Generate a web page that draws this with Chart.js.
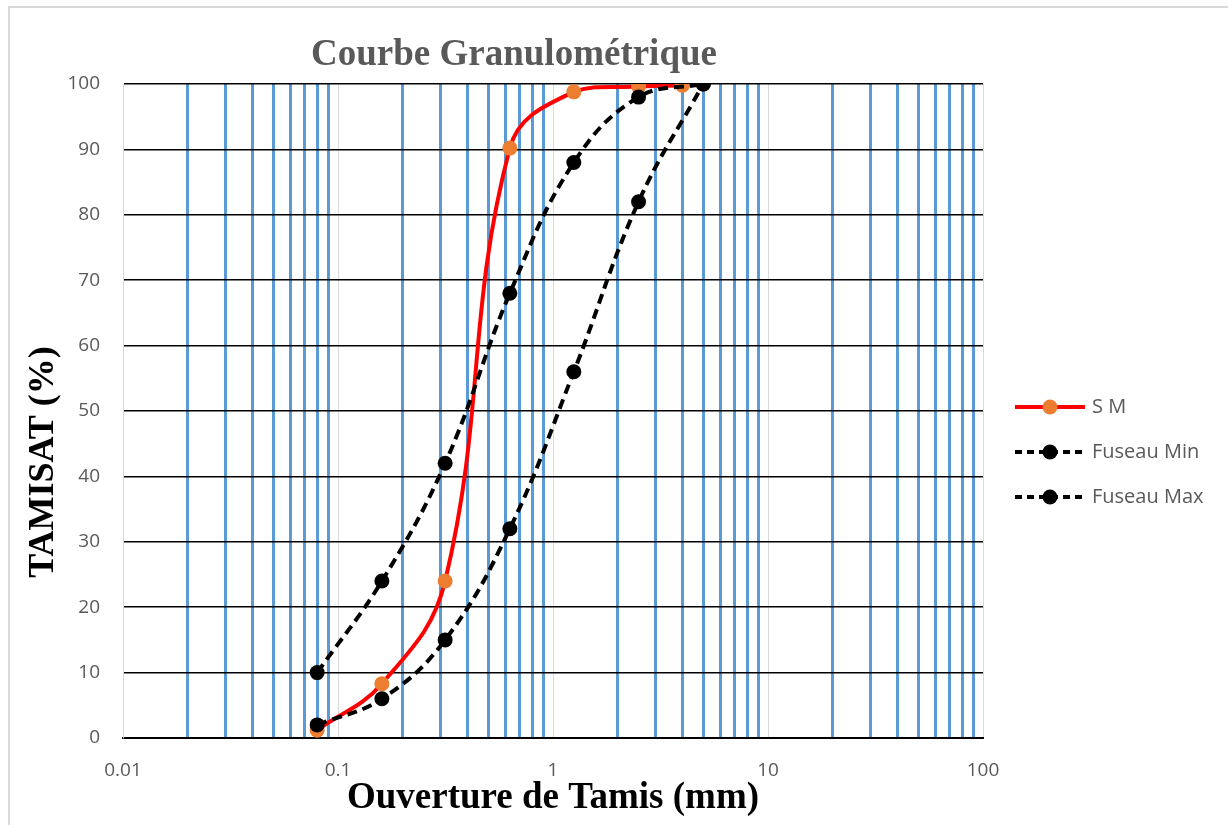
<!DOCTYPE html>
<html><head><meta charset="utf-8">
<script src="https://cdn.jsdelivr.net/npm/chart.js@4.4.1/dist/chart.umd.min.js"></script>
<style>html,body{margin:0;padding:0;background:#fff}#wrap{width:1228px;height:825px;position:relative}</style>
</head><body><div id="wrap"><canvas id="c" width="1228" height="825"></canvas></div>
<script>
const titleText = 'Courbe Granulométrique';
const xTitle = 'Ouverture de Tamis (mm)';
const yTitle = 'TAMISAT (%)';
const seriesNames = ['S M', 'Fuseau Min', 'Fuseau Max'];
const smSieves = [0.08, 0.16, 0.315, 0.63, 1.25, 2.5, 4, 5];
const smPassing = [1.2, 8.3, 24, 90.2, 98.8, 99.6, 99.8, 100];
const fuseauSieves = [0.08, 0.16, 0.315, 0.63, 1.25, 2.5, 5];
const fuseauMin = [10, 24, 42, 68, 88, 98, 100];
const fuseauMax = [2, 6, 15, 32, 56, 82, 100];
const xTickLabels = ['0.01', '0.1', '1', '10', '100'];
const xDecades = [0.01, 0.1, 1, 10, 100];

const pts = (xs, ys) => xs.map((x, i) => ({x: x, y: ys[i]}));
const tickFont = {family: "'Open Sans', sans-serif", size: 19};

const extras = {
  id: 'extras',
  afterDraw(chart) {
    const ctx = chart.ctx;
    ctx.save();
    ctx.strokeStyle = '#D9D9D9'; ctx.lineWidth = 2; ctx.setLineDash([]);
    ctx.beginPath(); ctx.moveTo(9, 825); ctx.lineTo(9, 7); ctx.lineTo(1228, 7); ctx.stroke();
    ctx.fillStyle = '#595959';
    ctx.font = "bold 37px 'Liberation Serif', serif";
    ctx.textAlign = 'center'; ctx.textBaseline = 'alphabetic';
    ctx.fillText(titleText, 514, 65);
    ctx.save();
    ctx.translate(53, 462); ctx.rotate(-Math.PI / 2);
    ctx.fillStyle = '#000';
    ctx.font = "bold 36px 'Liberation Serif', serif";
    ctx.fillText(yTitle, 0, 0);
    ctx.restore();
    chart.data.datasets.forEach((ds, i) => {
      const y = 407 + i * 45;
      ctx.strokeStyle = ds.borderColor; ctx.lineWidth = ds.borderWidth;
      ctx.setLineDash(ds.borderDash ? [7, 5] : []);
      ctx.beginPath(); ctx.moveTo(1015, y); ctx.lineTo(1085, y); ctx.stroke();
      ctx.setLineDash([]);
      ctx.fillStyle = ds.pointBackgroundColor;
      ctx.beginPath(); ctx.arc(1050, y, ds.pointRadius, 0, Math.PI * 2); ctx.fill();
      ctx.fillStyle = '#595959';
      ctx.font = "20px 'Open Sans', sans-serif";
      ctx.textAlign = 'left'; ctx.textBaseline = 'middle';
      ctx.fillText(ds.label, 1092, y);
    });
    ctx.restore();
  }
};

new Chart(document.getElementById('c'), {
  type: 'line',
  data: {
    datasets: [
      {label: seriesNames[0], data: pts(smSieves, smPassing), borderColor: '#FF0000', borderWidth: 4,
       pointBackgroundColor: '#ED7D31', pointBorderColor: '#ED7D31', pointRadius: 7.5, pointBorderWidth: 0,
       tension: 0.4, order: 3},
      {label: seriesNames[1], data: pts(fuseauSieves, fuseauMin), borderColor: '#000000', borderWidth: 4, borderDash: [10, 6],
       pointBackgroundColor: '#000000', pointBorderColor: '#000000', pointRadius: 7.5, pointBorderWidth: 0,
       tension: 0.4, order: 2},
      {label: seriesNames[2], data: pts(fuseauSieves, fuseauMax), borderColor: '#000000', borderWidth: 4, borderDash: [10, 6],
       pointBackgroundColor: '#000000', pointBorderColor: '#000000', pointRadius: 7.5, pointBorderWidth: 0,
       tension: 0.4, order: 1}
    ]
  },
  options: {
    responsive: false, animation: false, devicePixelRatio: 1,
    layout: {padding: {left: 0, right: 245, top: 84, bottom: 0}},
    plugins: {legend: {display: false}, title: {display: false}, tooltip: {enabled: false}},
    scales: {
      x: {
        type: 'logarithmic', min: 0.01, max: 100,
        afterBuildTicks(scale) {
          const t = [];
          for (let d = 0; d < xDecades.length - 1; d++) {
            for (let k = 1; k <= 9; k++) t.push({value: +(k * xDecades[d]).toPrecision(6)});
          }
          t.push({value: xDecades[xDecades.length - 1]});
          scale.ticks = t;
        },
        afterFit(scale) { scale.height = 87; },
        ticks: {
          autoSkip: false, maxRotation: 0, color: '#595959', font: tickFont, padding: 21,
          callback: (v, i) => (i % 9 === 0 ? xTickLabels[i / 9] : '')
        },
        grid: {
          drawTicks: false,
          color: (c) => (c.index % 9 === 0 ? '#D9D9D9' : '#5B9BD5'),
          lineWidth: (c) => (c.index % 9 === 0 ? 1 : 3)
        },
        border: {color: '#000000', width: 2},
        title: {display: true, text: xTitle, color: '#000',
          font: {family: "'Liberation Serif', serif", size: 37, weight: 'bold'}, padding: {top: 0, bottom: 4}}
      },
      y: {
        min: 0, max: 100,
        afterFit(scale) { scale.width = 123; },
        ticks: {stepSize: 10, color: '#595959', font: tickFont, padding: 23},
        grid: {drawTicks: false, color: '#000000', lineWidth: 1.5},
        border: {color: '#D9D9D9', width: 1}
      }
    }
  },
  plugins: [extras]
});
</script></body></html>
